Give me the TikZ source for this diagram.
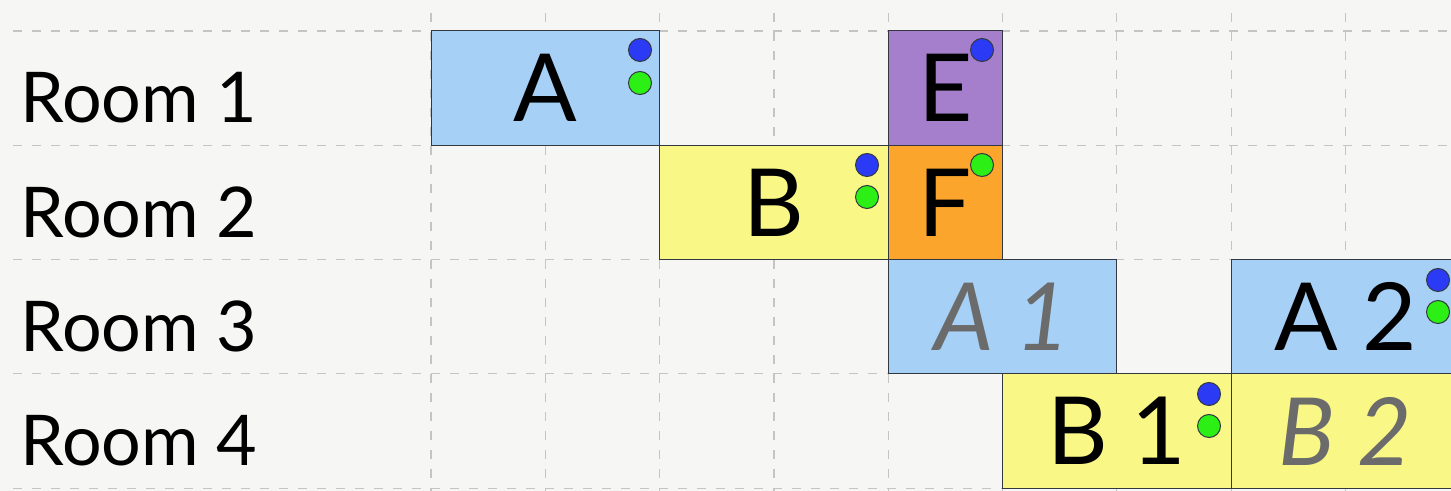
\documentclass[tikz,border=0pt]{standalone}
\usepackage{fontspec}
\setmainfont{Lato}
\definecolor{bgc}{HTML}{F6F6F5}
\definecolor{gridc}{HTML}{C4C4C4}
\definecolor{lblue}{HTML}{A6D0F5}
\definecolor{lyellow}{HTML}{F9F786}
\definecolor{lpurple}{HTML}{A57FCC}
\definecolor{lorange}{HTML}{FCA52C}
\definecolor{dblue}{HTML}{2B3BF5}
\definecolor{dgreen}{HTML}{2CEF15}
\definecolor{edgec}{HTML}{333840}
\definecolor{ghost}{HTML}{6B6B6B}
\tikzset{
  x=0.5pt, y=-0.5pt,
  gridline/.style={gridc, line width=0.6pt, dash pattern=on 4.5pt off 5pt},
  slot/.style={draw=edgec, line width=0.5pt, inner sep=0pt, minimum height=57.15pt, font=\fontsize{47}{47}\selectfont},
  single/.style={slot, minimum width=57.15pt},
  double/.style={slot, minimum width=114.3pt},
  ghosttext/.style={text=ghost, font=\fontsize{47}{47}\selectfont\itshape},
  roomlabel/.style={anchor=base west, inner sep=0pt, font=\fontsize{35}{35}\selectfont},
  dot/.style={circle, draw=edgec, line width=0.5pt, minimum size=11.5pt, inner sep=0pt},
}
\begin{document}
\begin{tikzpicture}
\useasboundingbox (0,0) rectangle (1451,491);
\fill[bgc] (0,0) rectangle (1451,491);
\clip (0,0) rectangle (1451,491);
% grid
\foreach \r in {0,...,4} \draw[gridline] (13,31+114.3*\r) -- (1460,31+114.3*\r);
\foreach \c in {0,...,8} \draw[gridline] (431+114.3*\c,13) -- (431+114.3*\c,495);
% room labels
\node[roomlabel] (r1) at (20,123) {Room 1};
\node[roomlabel] (r2) at (20,238) {Room 2};
\node[roomlabel] (r3) at (20,352) {Room 3};
\node[roomlabel] (r4) at (20,466) {Room 4};
% boxes
\node[double, fill=lblue] (A) at (545.3,88.15) {A};
\node[single, fill=lpurple] (E) at (945.35,88.15) {E};
\node[double, fill=lyellow] (B) at (773.9,202.45) {B};
\node[single, fill=lorange] (F) at (945.35,202.45) {F};
\node[double, fill=lblue, ghosttext] (A1) at (1002.5,316.75) {A 1};
\node[double, fill=lblue] (A2) at (1345.4,316.75) {A 2};
\node[double, fill=lyellow] (B1) at (1116.8,431.05) {B 1};
\node[double, fill=lyellow, ghosttext] (B2) at (1345.4,431.05) {B 2};
% dots
\node[dot, fill=dblue] (Ab) at (640,50) {};
\node[dot, fill=dgreen] (Ag) at (640,83) {};
\node[dot, fill=dblue] (Eb) at (982,50) {};
\node[dot, fill=dblue] (Bb) at (867,165) {};
\node[dot, fill=dgreen] (Bg) at (867,197) {};
\node[dot, fill=dgreen] (Fg) at (982,165) {};
\node[dot, fill=dblue] (A2b) at (1438,280) {};
\node[dot, fill=dgreen] (A2g) at (1438,312) {};
\node[dot, fill=dblue] (B1b) at (1209,394) {};
\node[dot, fill=dgreen] (B1g) at (1209,426) {};
\end{tikzpicture}
\end{document}
